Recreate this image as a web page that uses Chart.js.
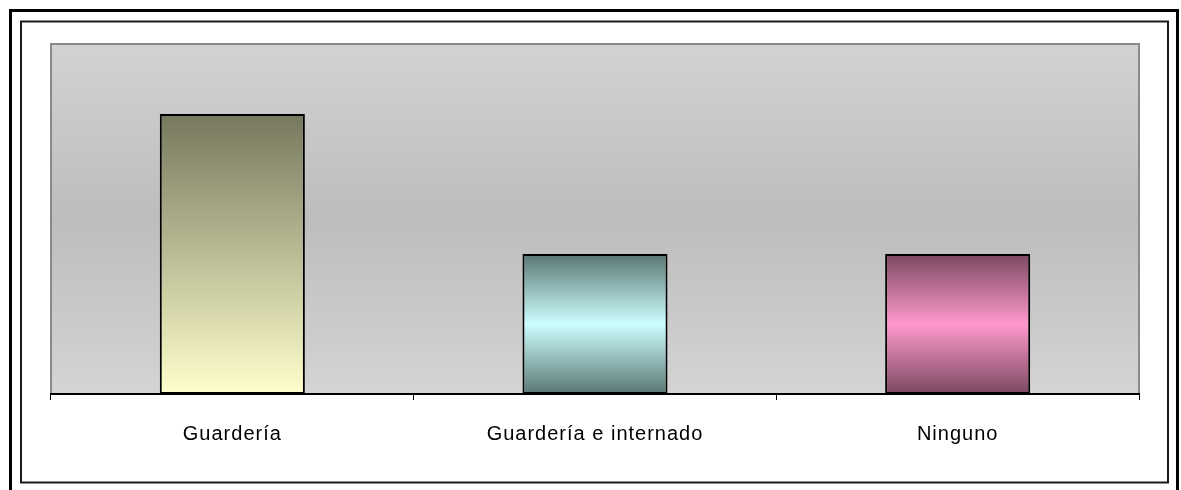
<!DOCTYPE html>
<html>
<head>
<meta charset="utf-8">
<script src="https://cdn.jsdelivr.net/npm/chart.js@4"></script>
<style>
  html, body { margin: 0; padding: 0; background: #ffffff; }
  canvas { display: block; }
</style>
</head>
<body>
<canvas id="chart" width="1181" height="490"></canvas>
<script>
// Categories and counts
const categories = ['Guardería', 'Guardería e internado', 'Ninguno'];
const counts = [4, 2, 2];
const axisMax = 5;

// Bar fill gradients: [edge colour, centre colour, style]
const barStops = [
  ['#76785e', '#ffffcc', 'linear'],
  ['#5a7673', '#ccffff', 'mirror'],
  ['#7a4862', '#ff99cc', 'mirror']
];

function barFill(context) {
  const chart = context.chart;
  const y = chart.scales.y;
  if (!y || !chart.chartArea) return barStops[context.dataIndex][1];
  const v = context.raw;
  const top = y.getPixelForValue(v);
  const base = y.getPixelForValue(0);
  const g = chart.ctx.createLinearGradient(0, top, 0, base);
  const s = barStops[context.dataIndex];
  if (s[2] === 'linear') {
    g.addColorStop(0, s[0]);
    g.addColorStop(1, s[1]);
  } else {
    g.addColorStop(0, s[0]);
    g.addColorStop(0.5, s[1]);
    g.addColorStop(1, s[0]);
  }
  return g;
}

// Frame, plot background and plot border
const framePlugin = {
  id: 'frame',
  beforeDraw(chart) {
    const ctx = chart.ctx;
    const a = chart.chartArea;
    ctx.save();
    ctx.fillStyle = '#ffffff';
    ctx.fillRect(0, 0, chart.width, chart.height);

    ctx.strokeStyle = '#000000';
    ctx.lineWidth = 3;
    ctx.strokeRect(10.5, 10.5, 1167, 486);

    ctx.strokeStyle = '#1a1a1a';
    ctx.lineWidth = 2;
    ctx.strokeRect(21, 21.5, 1147, 461);

    const bg = ctx.createLinearGradient(0, a.top, 0, a.bottom);
    bg.addColorStop(0, '#d2d2d2');
    bg.addColorStop(0.5, '#bdbdbd');
    bg.addColorStop(1, '#d4d4d4');
    ctx.fillStyle = bg;
    ctx.fillRect(a.left, a.top, a.right - a.left, a.bottom - a.top);

    ctx.strokeStyle = '#8a8a8a';
    ctx.lineWidth = 2;
    ctx.beginPath();
    ctx.moveTo(a.left, a.bottom);
    ctx.lineTo(a.left, a.top);
    ctx.lineTo(a.right, a.top);
    ctx.lineTo(a.right, a.bottom);
    ctx.stroke();
    ctx.restore();
    ctx.letterSpacing = '1px';
  }
};

new Chart(document.getElementById('chart'), {
  type: 'bar',
  data: {
    labels: categories,
    datasets: [{
      data: counts,
      backgroundColor: barFill,
      borderColor: '#000000',
      borderWidth: 2,
      borderSkipped: false,
      barPercentage: 0.4,
      categoryPercentage: 1.0
    }]
  },
  options: {
    responsive: false,
    animation: false,
    devicePixelRatio: 1,
    layout: { padding: { left: 51, right: 42, top: 44, bottom: 0 } },
    plugins: {
      legend: { display: false },
      tooltip: { enabled: false }
    },
    scales: {
      x: {
        grid: {
          display: true,
          drawOnChartArea: false,
          drawTicks: true,
          tickLength: 6,
          color: '#000000',
          lineWidth: 1
        },
        border: { display: true, color: '#000000', width: 2 },
        ticks: {
          color: '#000000',
          font: { family: '"Liberation Sans", Arial, sans-serif', size: 20 },
          padding: 22,
          maxRotation: 0
        },
        afterFit(scale) { scale.height = 96; }
      },
      y: {
        display: false,
        min: 0,
        max: axisMax
      }
    }
  },
  plugins: [framePlugin]
});
</script>
</body>
</html>
